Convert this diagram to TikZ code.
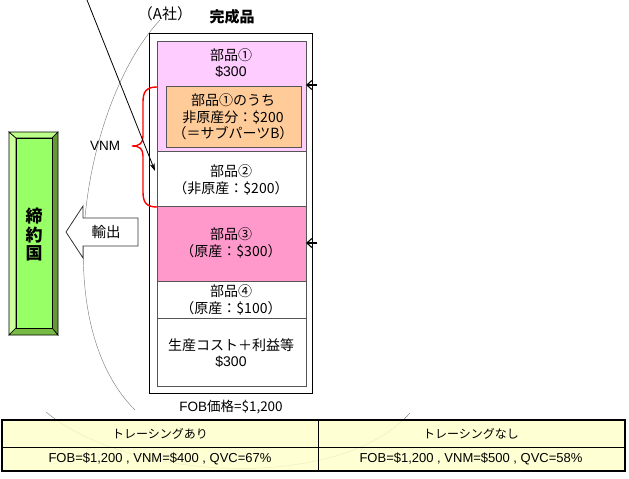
\documentclass[tikz,border=0pt]{standalone}
\usepackage{fontspec}
\setmainfont{Liberation Sans}
\newfontfamily\jp{Noto Sans CJK JP}
\usetikzlibrary{arrows.meta}
\definecolor{pinkA}{HTML}{FFCCFF}
\definecolor{orangeA}{HTML}{FFCC99}
\definecolor{pinkB}{HTML}{FF99CC}
\definecolor{tableY}{HTML}{FFFFCC}
\definecolor{greenF}{HTML}{99FF66}
\definecolor{greenL}{HTML}{CCFF99}
\definecolor{greenT}{HTML}{BBFF88}
\definecolor{greenD}{HTML}{669933}
\definecolor{greenB}{HTML}{77BB44}
\definecolor{partEdge}{HTML}{555555}
\begin{document}
\begin{tikzpicture}[x=1pt,y=-1pt,
  partbox/.style={draw=partEdge, line width=0.9pt, anchor=north west, inner sep=0pt, outer sep=0pt},
  lbl/.style={align=center, inner sep=0pt, font=\fontsize{14}{16.5}\selectfont},
  tbl/.style={inner sep=0pt, font=\fontsize{13}{15}\selectfont},
  tblh/.style={inner sep=0pt, font=\jp\fontsize{12}{15}\selectfont},
  arcline/.style={draw=gray, line width=0.45pt},
  smallarr/.style={-{Straight Barb[length=5pt,width=9pt]}, line width=1.1pt}
]
\useasboundingbox (0,0) rectangle (629,479);

% faint arcs
\draw[arcline] (160,20) .. controls (85,100) and (45,320) .. (135,410);
\draw[arcline] (46,412) .. controls (130,482) and (340,492) .. (410,413);

% table
\fill[tableY, opacity=0.85] (2,420) rectangle (625,471);
\draw[line width=2.4pt] (2,420) rectangle (625,471);
\draw[line width=1pt] (2,447) -- (625,447);
\draw[line width=1pt] (318,420) -- (318,471);
\node[tblh] (h1) at (160,434) {トレーシングあり};
\node[tblh] (h2) at (471,434) {トレーシングなし};
\node[tbl] (v1) at (160,459) {FOB=\$1,200 , VNM=\$400 , QVC=67\%};
\node[tbl] (v2) at (471,459) {FOB=\$1,200 , VNM=\$500 , QVC=58\%};

% outer product box
\node[draw=black, line width=1.3pt, anchor=north west, minimum width=163pt, minimum height=360pt, inner sep=0pt] (prod) at (149,33) {};
\node[font=\jp\bfseries\fontsize{15}{18}\selectfont, inner sep=0pt] (title) at (232,17) {完成品};
\node[font=\jp\fontsize{15}{17}\selectfont, inner sep=0pt] (acomp) at (165,14) {（A社）};

% parts
\node[partbox, fill=pinkA, minimum width=149pt, minimum height=110pt] (p1) at (157,41) {};
\node[partbox, fill=orangeA, minimum width=135pt, minimum height=61pt] (p1s) at (166,86) {};
\node[partbox, fill=white, minimum width=149pt, minimum height=55pt] (p2) at (157,151) {};
\node[partbox, fill=pinkB, minimum width=149pt, minimum height=75pt] (p3) at (157,206) {};
\node[partbox, fill=white, minimum width=149pt, minimum height=37pt] (p4) at (157,281) {};
\node[partbox, fill=white, minimum width=149pt, minimum height=68pt] (p5) at (157,318) {};

\node[lbl] (t1) at (231,63) {\jp{部品①}\\\$300};
\node[lbl] (t1s) at (233,117) {\jp{部品①のうち}\\\jp{非原産分：}\$200\\\jp{（＝サブパーツB）}};
\node[lbl] (t2) at (231,180) {\jp{部品②}\\\jp{（非原産：}\$200\jp{）}};
\node[lbl] (t3) at (231,243) {\jp{部品③}\\\jp{（原産：}\$300\jp{）}};
\node[lbl] (t4) at (231,300) {\jp{部品④}\\\jp{（原産：}\$100\jp{）}};
\node[lbl] (t5) at (231,353) {\jp{生産コスト＋利益等}\\\$300};
\node[lbl, font=\fontsize{13.5}{16}\selectfont] (fob) at (231,407) {FOB\jp{価格}=\$1,200};

% small arrows on right
\coordinate (r1a) at (317,85);
\coordinate (r1b) at (306,85);
\coordinate (r2a) at (317,243);
\coordinate (r2b) at (306,243);
\draw[smallarr] (r1a) -- (r1b);
\draw[smallarr] (r2a) -- (r2b);

% red brace
\draw[red, line width=1.4pt] (157,87) .. controls (146,87) and (143,92) .. (143,102) -- (143,136)
  .. controls (143,143) and (140,146) .. (132,146)
  .. controls (140,146) and (143,149) .. (143,156) -- (143,192)
  .. controls (143,202) and (146,207) .. (157,207);
\node[inner sep=0pt, font=\fontsize{13.5}{16}\selectfont] (vnm) at (105,146) {VNM};

% black arrow from top
\coordinate (arrTop) at (87,0);
\coordinate (arrEnd) at (155,171);
\draw[line width=0.8pt, -{Stealth[length=8pt,width=5pt]}] (arrTop) -- (arrEnd);

% green beveled box
\filldraw[fill=greenL, draw=black, line width=0.6pt] (9,132) -- (16,138) -- (16,328) -- (9,335) -- cycle;
\filldraw[fill=greenT, draw=black, line width=0.6pt] (9,132) -- (58,132) -- (52,138) -- (16,138) -- cycle;
\filldraw[fill=greenD, draw=black, line width=0.6pt] (58,132) -- (58,335) -- (52,328) -- (52,138) -- cycle;
\filldraw[fill=greenB, draw=black, line width=0.6pt] (9,335) -- (58,335) -- (52,328) -- (16,328) -- cycle;
\node[draw=black, line width=0.6pt, fill=greenF, anchor=north west, minimum width=36pt, minimum height=190pt, inner sep=0pt] (country) at (16,138) {};
\node[align=center, inner sep=0pt, font=\jp\bfseries\fontsize{17}{18.5}\selectfont] (ctext) at (34,235) {締\\約\\国};

% export arrow
\filldraw[fill=white, draw=black!80, line width=0.8pt] (66,232) -- (83,206) -- (83,218) -- (138,218) -- (138,246) -- (83,246) -- (83,258) -- cycle;
\node[inner sep=0pt, font=\jp\fontsize{14.5}{16}\selectfont] (exp) at (106,232) {輸出};
\end{tikzpicture}
\end{document}
